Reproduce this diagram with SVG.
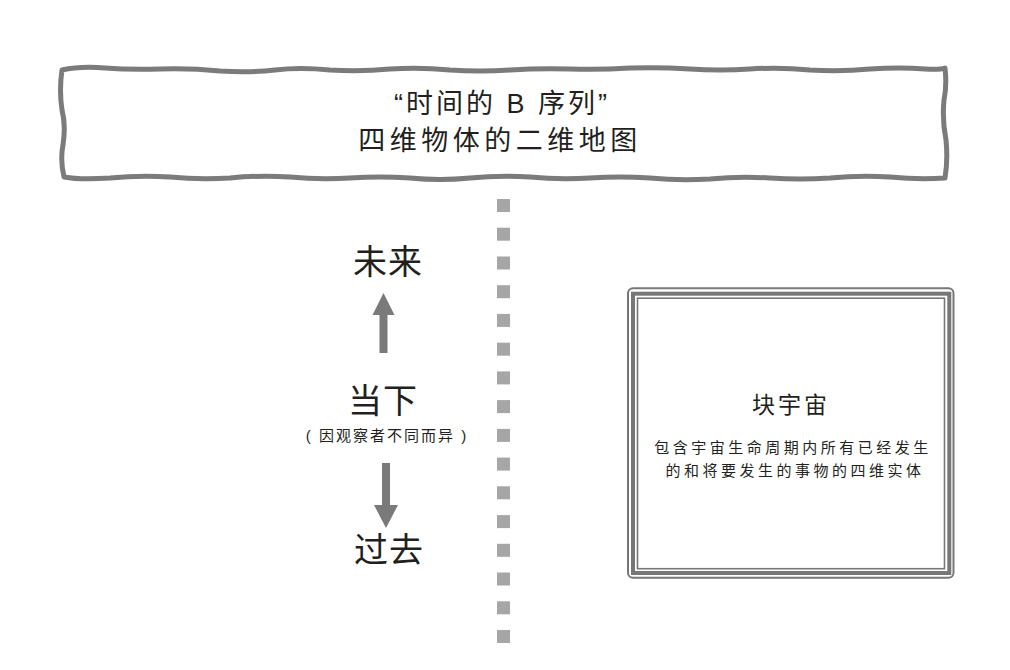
<svg xmlns="http://www.w3.org/2000/svg" width="1010" height="670" viewBox="0 0 1010 670">
<style>
.t{font-family:"Liberation Sans","Noto Sans CJK SC",sans-serif;fill:#231f20;text-anchor:middle}
.cjk{font-family:"Noto Sans CJK SC","Liberation Sans",sans-serif;fill:#231f20;text-anchor:middle}
.dot{fill:#a6a6a6}
.arrow{fill:#7a7a7a}
.frame{fill:none;stroke:#777}
</style>
<rect width="1010" height="670" fill="#fff"/>
<g id="title">
<path d="M62,70 Q80,66 105,68 Q130,70 160,69 Q190,68 220,71 Q250,73 275,70 Q300,67 330,70 Q360,72 390,69 Q420,67 450,70 Q480,72 510,70 Q540,68 570,69 Q600,70 630,68 Q660,67 690,69 Q720,71 750,69 Q780,67 810,70 Q840,72 870,69 Q900,67 925,69 Q940,70 945,68 Q947,85 944,100 Q942,120 946,140 Q948,160 945,178 Q920,180 890,177 Q860,175 830,178 Q800,180 770,178 Q740,176 710,179 Q680,181 650,178 Q620,176 590,178 Q560,180 530,177 Q500,175 470,178 Q440,181 410,178 Q380,176 350,178 Q320,180 290,177 Q260,175 230,178 Q200,180 170,177 Q140,175 110,178 Q80,180 64,177 Q60,160 63,145 Q66,125 62,110 Q59,90 62,70 Z" fill="#fff" stroke="#7b7b7b" stroke-width="5" stroke-linejoin="round"/>
<text class="t" x="502" y="113" font-size="27" letter-spacing="3">“时间的 B 序列”</text>
<text class="cjk" x="500" y="150" font-size="27" letter-spacing="4.5">四维物体的二维地图</text>
</g>
<g id="divider">
<rect class="dot" x="497" y="199" width="13" height="13"/>
<rect class="dot" x="497" y="227.7" width="13" height="13"/>
<rect class="dot" x="497" y="256.5" width="13" height="13"/>
<rect class="dot" x="497" y="285.2" width="13" height="13"/>
<rect class="dot" x="497" y="313.9" width="13" height="13"/>
<rect class="dot" x="497" y="342.7" width="13" height="13"/>
<rect class="dot" x="497" y="371.4" width="13" height="13"/>
<rect class="dot" x="497" y="400.1" width="13" height="13"/>
<rect class="dot" x="497" y="428.9" width="13" height="13"/>
<rect class="dot" x="497" y="457.6" width="13" height="13"/>
<rect class="dot" x="497" y="486.3" width="13" height="13"/>
<rect class="dot" x="497" y="515.1" width="13" height="13"/>
<rect class="dot" x="497" y="543.8" width="13" height="13"/>
<rect class="dot" x="497" y="572.5" width="13" height="13"/>
<rect class="dot" x="497" y="601.3" width="13" height="13"/>
<rect class="dot" x="497" y="630" width="13" height="13"/>
</g>
<g id="future">
<text class="cjk" x="388" y="274" font-size="34" letter-spacing="1">未来</text>
</g>
<g id="now">
<text class="cjk" x="383" y="413" font-size="34" letter-spacing="1">当下</text>
<text class="t" x="387" y="441" font-size="15" letter-spacing="2">( 因观察者不同而异 )</text>
</g>
<g id="past">
<text class="cjk" x="389" y="562" font-size="34" letter-spacing="1">过去</text>
</g>
<g id="connectors">
<path class="arrow" d="M379.5,353 L379.5,315 L372.5,315 L383.5,293 L394.5,315 L387.5,315 L387.5,353 Z"/>
<path class="arrow" d="M382,463 L390,463 L390,505 L398,505 L386,528 L374,505 L382,505 Z"/>
</g>
<g id="block-universe">
<rect x="628" y="288.3" width="325.5" height="289.5" rx="5" fill="#fff" stroke="#777" stroke-width="2"/>
<rect class="frame" x="633" y="293.7" width="316.3" height="279.3" stroke-width="4"/>
<rect class="frame" x="637.5" y="298.2" width="307" height="270.5" stroke-width="1.6"/>
<text class="cjk" x="791" y="413" font-size="23" letter-spacing="3">块宇宙</text>
<text class="cjk" x="793" y="453" font-size="15" letter-spacing="3.5">包含宇宙生命周期内所有已经发生</text>
<text class="cjk" x="795" y="476" font-size="15" letter-spacing="3.5">的和将要发生的事物的四维实体</text>
</g>
</svg>
